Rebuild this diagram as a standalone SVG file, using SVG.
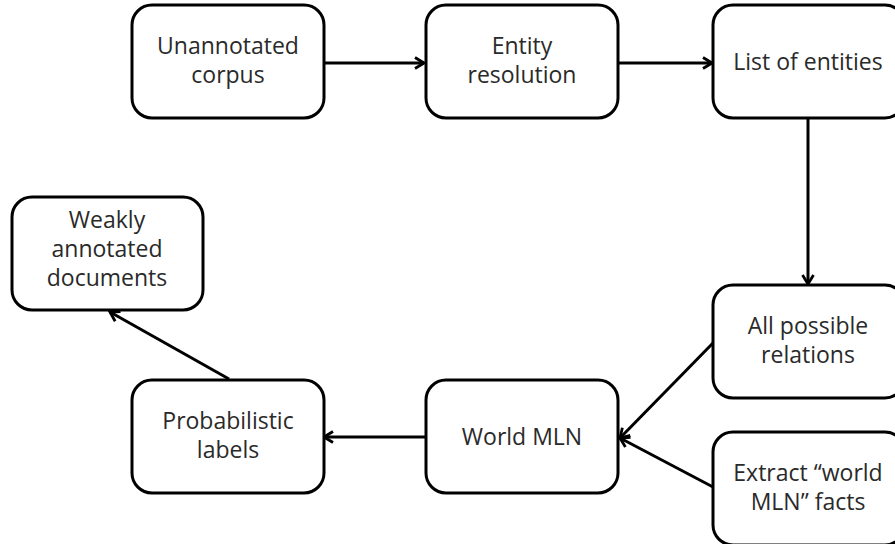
<svg xmlns="http://www.w3.org/2000/svg" width="895" height="544" viewBox="0 0 895 544">
<defs>
<style>
.box{fill:#fff;stroke:#000;stroke-width:3}
.t{font-family:"Open Sans",Lato,sans-serif;font-size:23px;fill:#2a2a2a;text-anchor:middle}
.c{stroke:#000;stroke-width:3;fill:none;marker-end:url(#ah)}
</style>
<marker id="ah" viewBox="0 0 14 14" refX="12" refY="7" markerWidth="14" markerHeight="14" markerUnits="userSpaceOnUse" orient="auto">
<path d="M3,1.5 L12,7 L3,12.5" fill="none" stroke="#000" stroke-width="2.8"/>
</marker>
</defs>
<g id="connectors">
<line class="c" x1="324" y1="63" x2="424" y2="63"/>
<line class="c" x1="618" y1="63" x2="712" y2="63"/>
<line class="c" x1="808" y1="118" x2="808" y2="284"/>
<line class="c" x1="713" y1="343" x2="620" y2="438"/>
<line class="c" x1="713" y1="487" x2="620" y2="438"/>
<line class="c" x1="426" y1="437" x2="324" y2="437"/>
<line class="c" x1="229" y1="379" x2="110" y2="312"/>
</g>
<g id="n1"><rect class="box" x="132" y="5" width="192" height="113" rx="20"/>
<text class="t" x="228" y="54">Unannotated</text><text class="t" x="228" y="83">corpus</text></g>
<g id="n2"><rect class="box" x="426" y="5" width="192" height="113" rx="20"/>
<text class="t" x="522" y="54">Entity</text><text class="t" x="522" y="83">resolution</text></g>
<g id="n3"><rect class="box" x="713" y="5" width="192" height="113" rx="20"/>
<text class="t" x="808" y="70">List of entities</text></g>
<g id="n4"><rect class="box" x="713" y="285" width="192" height="113" rx="20"/>
<text class="t" x="808" y="334">All possible</text><text class="t" x="808" y="363">relations</text></g>
<g id="n5"><rect class="box" x="713" y="432" width="192" height="113" rx="20"/>
<text class="t" x="808" y="481">Extract “world</text><text class="t" x="808" y="510">MLN” facts</text></g>
<g id="n6"><rect class="box" x="426" y="380" width="192" height="113" rx="20"/>
<text class="t" x="522" y="445">World MLN</text></g>
<g id="n7"><rect class="box" x="132" y="380" width="192" height="113" rx="20"/>
<text class="t" x="228" y="429">Probabilistic</text><text class="t" x="228" y="458">labels</text></g>
<g id="n8"><rect class="box" x="12" y="197" width="191" height="113" rx="20"/>
<text class="t" x="107" y="228">Weakly</text><text class="t" x="107" y="257">annotated</text><text class="t" x="107" y="286">documents</text></g>
</svg>
